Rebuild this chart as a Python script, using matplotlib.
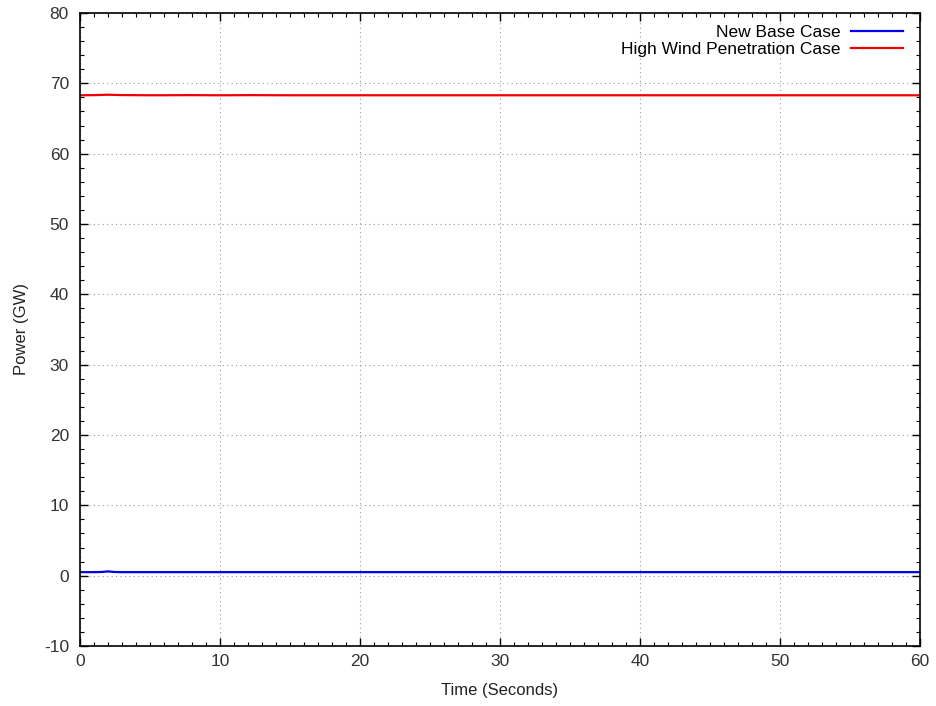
import matplotlib
matplotlib.use('Agg')
import matplotlib.pyplot as plt
from matplotlib.ticker import MultipleLocator

plt.rcParams['font.family'] = ['Liberation Sans', 'DejaVu Sans']
plt.rcParams['font.size'] = 12
plt.rcParams['axes.unicode_minus'] = False

# time samples (seconds) and power (GW)
time_s = [0, 1, 1.5, 2, 2.5, 3, 5, 8, 10, 12, 15, 20, 30, 40, 50, 60]
base_case = [0.5, 0.5, 0.52, 0.6, 0.52, 0.5, 0.5, 0.5, 0.5, 0.5, 0.5, 0.5, 0.5, 0.5, 0.5, 0.5]
high_wind = [68.3, 68.32, 68.35, 68.38, 68.35, 68.33, 68.3, 68.32, 68.3, 68.32, 68.3, 68.3, 68.3, 68.3, 68.3, 68.3]

fig = plt.figure(figsize=(9.36, 7.06), dpi=100)
ax = fig.add_axes([0.0855, 0.085, 0.8975, 0.8966])

ax.plot(time_s, base_case, color='#0000ee', lw=1.6, label='New Base Case')
ax.plot(time_s, high_wind, color='#ee0000', lw=1.6, label='High Wind Penetration Case')

ax.set_xlim(0, 60)
ax.set_ylim(-10, 80)
ax.xaxis.set_major_locator(MultipleLocator(10))
ax.xaxis.set_minor_locator(MultipleLocator(1))
ax.yaxis.set_major_locator(MultipleLocator(10))
ax.yaxis.set_minor_locator(MultipleLocator(2))
ax.tick_params(which='both', direction='in', top=True, right=True, colors='black')
ax.tick_params(which='major', length=6, width=1, pad=6)
ax.tick_params(which='minor', length=3, width=0.8)
ax.tick_params(labelsize=12.5, labelcolor='#333333')
ax.tick_params(axis='y', pad=8)
for s in ax.spines.values():
    s.set_linewidth(1.2)

ax.grid(True, which='major', linestyle=(0, (1, 3)), color='#999999', lw=0.8)

ax.set_xlabel('Time (Seconds)', color='#222222', labelpad=10)
ax.set_ylabel('Power (GW)', color='#222222', labelpad=11)

ax.legend(loc='upper right', bbox_to_anchor=(0.994, 1.001), frameon=False,
          markerfirst=False, handlelength=3, borderaxespad=0.3,
          labelspacing=0.15, handletextpad=0.6, fontsize=12.5)

fig.savefig('out.png', dpi=100)
